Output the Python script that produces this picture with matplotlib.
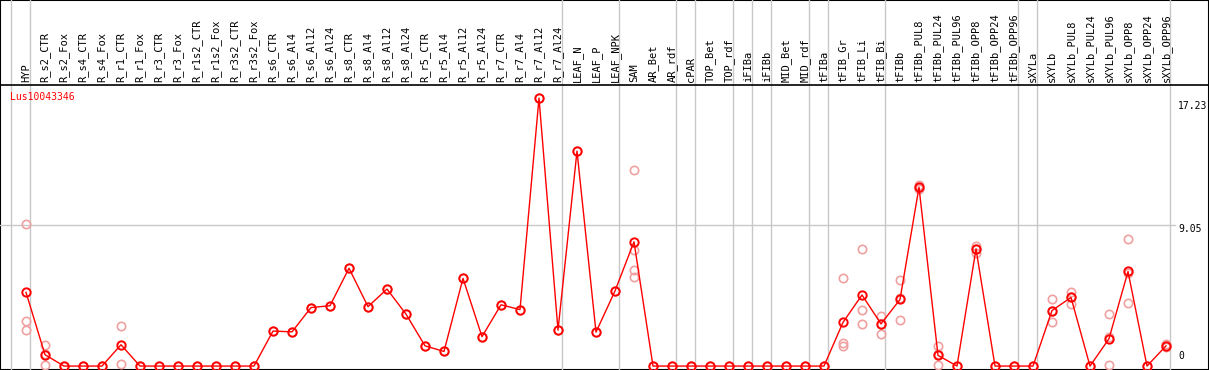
import matplotlib
matplotlib.use('Agg')
import matplotlib.pyplot as plt
from matplotlib.transforms import blended_transform_factory

# expression profile of one gene across samples
gene = 'Lus10043346'
samples = ['HYP', 'R_s2_CTR', 'R_s2_Fox', 'R_s4_CTR', 'R_s4_Fox', 'R_r1_CTR', 'R_r1_Fox',
           'R_r3_CTR', 'R_r3_Fox', 'R_r1s2_CTR', 'R_r1s2_Fox', 'R_r3s2_CTR', 'R_r3s2_Fox',
           'R_s6_CTR', 'R_s6_Al4', 'R_s6_Al12', 'R_s6_Al24', 'R_s8_CTR', 'R_s8_Al4',
           'R_s8_Al12', 'R_s8_Al24', 'R_r5_CTR', 'R_r5_Al4', 'R_r5_Al12', 'R_r5_Al24',
           'R_r7_CTR', 'R_r7_Al4', 'R_r7_Al12', 'R_r7_Al24', 'LEAF_N', 'LEAF_P', 'LEAF_NPK',
           'SAM', 'AR_Bet', 'AR_rdf', 'cPAR', 'TOP_Bet', 'TOP_rdf', 'iFIBa', 'iFIBb',
           'MID_Bet', 'MID_rdf', 'tFIBa', 'tFIB_Gr', 'tFIB_Li', 'tFIB_Bi', 'tFIBb',
           'tFIBb_PUL8', 'tFIBb_PUL24', 'tFIBb_PUL96', 'tFIBb_OPP8', 'tFIBb_OPP24',
           'tFIBb_OPP96', 'sXYLa', 'sXYLb', 'sXYLb_PUL8', 'sXYLb_PUL24', 'sXYLb_PUL96',
           'sXYLb_OPP8', 'sXYLb_OPP24', 'sXYLb_OPP96']
means = [4.74, 0.73, 0, 0, 0, 1.37, 0, 0, 0, 0, 0, 0, 0,
         2.25, 2.20, 3.76, 3.88, 6.29, 3.82, 4.95, 3.34, 1.30, 0.94, 5.64, 1.89,
         3.94, 3.63, 17.23, 2.31, 13.82, 2.18, 4.83, 7.99,
         0, 0, 0, 0, 0, 0, 0, 0, 0, 0,
         2.81, 4.57, 2.71, 4.28, 11.50, 0.69, 0, 7.53, 0, 0,
         0, 3.57, 4.41, 0, 1.76, 6.08, 0, 1.30]
reps = [[9.11, 2.89, 2.33], [1.34, 0.10, 0.75], [0], [0], [0], [2.58, 0.16], [0],
        [0], [0], [0], [0], [0], [0],
        [2.25], [2.20], [3.76], [3.88], [6.29], [3.82], [4.95], [3.34], [1.30], [0.94],
        [5.64], [1.89], [3.94], [3.63], [17.23], [2.31], [13.82], [2.18], [4.83],
        [12.63, 7.47, 6.17, 5.73],
        [0], [0], [0], [0], [0], [0], [0], [0], [0], [0],
        [5.64, 1.51, 1.28], [7.53, 3.63, 2.69], [3.25, 2.71, 2.06], [5.52, 2.94, 4.38],
        [11.66, 11.40, 11.45], [1.26, 0.05, 0.76], [0], [7.74, 7.30, 7.55], [0], [0],
        [0], [4.32, 2.83, 3.56], [4.78, 3.98, 4.47], [0], [3.32, 0.05, 1.90],
        [8.16, 4.07, 6.00], [0], [1.40, 1.20, 1.30]]
group_ends = [-1, 0, 28, 31, 34, 35, 37, 38, 39, 41, 42, 45, 52, 53, 60]
grid_value = 9.05
axis_labels = ['17.23', '9.05', '0']
axis_values = [17.23, 9.05, 0]

grey = '#c8c8c8'
pink = '#f0a0a0'
mono = 'DejaVu Sans Mono'

fig = plt.figure(figsize=(12.09, 3.70), dpi=100)

# outer frame
bg = fig.add_axes([0, 0, 1, 1])
bg.set_xticks([])
bg.set_yticks([])
for s in bg.spines.values():
    s.set_color('black')
    s.set_linewidth(1.5)

ax = fig.add_axes([0, 1 / 370, 1, 284 / 370])
ax.patch.set_alpha(0)
ax.set_xlim(-26 / 19, (1209 - 26) / 19)
ax.set_ylim(-0.189, 18.07)
ax.set_xticks([])
ax.set_yticks([])
for name in ['left', 'right', 'bottom']:
    ax.spines[name].set_visible(False)
ax.spines['top'].set_color('black')
ax.spines['top'].set_linewidth(1.2)

for g in group_ends:
    ax.axvline(g + 0.21, ymin=0, ymax=1.3, color=grey, lw=1.0, clip_on=False, zorder=1)
ax.axhline(grid_value, xmin=0, xmax=1175 / 1209, color=grey, lw=1.0, zorder=1)

x = list(range(len(samples)))
for i, r in enumerate(reps):
    ax.plot([i] * len(r), r, 'o', ms=6, mfc='none', mec=pink, mew=1.2, zorder=2)
ax.plot(x, means, '-', color='red', lw=1.0, zorder=3)
ax.plot(x, means, 'o', ms=6, mfc='none', mec='red', mew=1.4, zorder=4)

tr = blended_transform_factory(ax.transData, ax.transAxes)
for i, s in enumerate(samples):
    ax.annotate(s, (i, 1), xycoords=tr, xytext=(0, 2), textcoords='offset points',
                rotation=90, ha='center', va='bottom', fontsize=7.5, family=mono)

ax.text(10 / 1209, 1, gene, transform=ax.transAxes, ha='left', va='top', color='red',
        fontsize=7, family=mono)
ax.texts[-1].set_position((10 / 1209, 1 - 7 / 284))

tr2 = blended_transform_factory(ax.transAxes, ax.transData)
offsets = [-6, -2.4, 7.4]
for lab, v, off in zip(axis_labels, axis_values, offsets):
    ax.annotate(lab, (1178 / 1209, v), xycoords=tr2, xytext=(0, off),
                textcoords='offset points', ha='left', va='center', fontsize=7, family=mono)

fig.savefig('out.png', dpi=100)
